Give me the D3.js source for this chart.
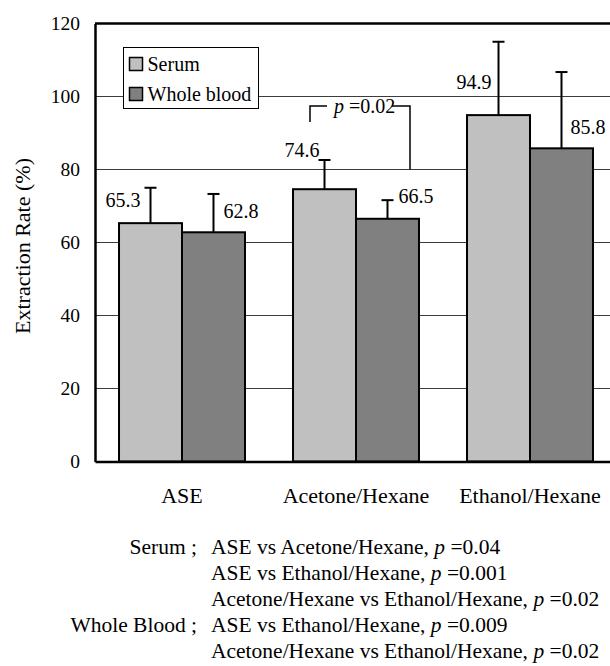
<!DOCTYPE html>
<html>
<head>
<meta charset="utf-8">
<script src="https://cdn.jsdelivr.net/npm/d3@7"></script>
<style>
  body { margin: 0; background: #fff; }
  text { font-family: "Liberation Serif", "Times New Roman", serif; fill: #000; }
</style>
</head>
<body>
<div id="vis"></div>
<script>
// Datos
const CATEGORIAS = ["ASE", "Acetone/Hexane", "Ethanol/Hexane"];
const SERIES = ["Serum", "Whole blood"];
const SERUM = [65.3, 74.6, 94.9];
const SERUM_SD = [9.7, 8.0, 20.1];
const WHOLE_BLOOD = [62.8, 66.5, 85.8];
const WHOLE_BLOOD_SD = [10.5, 5.1, 20.9];
const Y_TICKS = [0, 20, 40, 60, 80, 100, 120];

const NOTAS_GRUPO = ["Serum ;", "", "", "Whole Blood ;", ""];
const NOTAS_TEXTO = [
  "ASE vs Acetone/Hexane, ",
  "ASE vs Ethanol/Hexane, ",
  "Acetone/Hexane vs Ethanol/Hexane, ",
  "ASE vs Ethanol/Hexane, ",
  "Acetone/Hexane vs Ethanol/Hexane, "
];
const NOTAS_P = ["0.04", "0.001", "0.02", "0.009", "0.02"];

// Tamaños
const WIDTH = 610;
const HEIGHT = 666;
const FONT = 20;

const MARGIN = { top: 23.5, left: 95, bottom: 461.5, right: 617 };

const COLORES = { "Serum": "#c0c0c0", "Whole blood": "#808080" };

// donde van las etiquetas de valor (en unidades del eje y) y su corrimiento
const LABEL_AT = {
  "Serum": [71.6, 85.3, 104.1],
  "Whole blood": [68.6, 72.8, 91.6]
};
const LABEL_DX = {
  "Serum": [-10, -5, -7],
  "Whole blood": [10, 11, 9]
};

const SVG = d3.select("#vis")
  .append("svg")
  .attr("width", WIDTH)
  .attr("height", HEIGHT)
  .style("background", "#fff");

const x = d3.scaleBand()
  .domain(CATEGORIAS)
  .range([MARGIN.left, MARGIN.right])
  .paddingInner(0.276)
  .paddingOuter(0.138);

const xSub = d3.scaleBand()
  .domain(SERIES)
  .range([0, x.bandwidth()]);

const y = d3.scaleLinear()
  .domain([0, 120])
  .range([MARGIN.bottom, MARGIN.top]);

const filas = CATEGORIAS.flatMap((c, i) => [
  { cat: c, serie: "Serum", valor: SERUM[i], sd: SERUM_SD[i], i: i },
  { cat: c, serie: "Whole blood", valor: WHOLE_BLOOD[i], sd: WHOLE_BLOOD_SD[i], i: i }
]);
const centro = d => x(d.cat) + xSub(d.serie) + xSub.bandwidth() / 2;

// lineas de grilla
SVG.append("g")
  .selectAll("line")
  .data(Y_TICKS.filter(t => t > 0 && t < 120))
  .join("line")
  .attr("x1", MARGIN.left)
  .attr("x2", MARGIN.right)
  .attr("y1", d => y(d))
  .attr("y2", d => y(d))
  .attr("stroke", "#3c3c3c")
  .attr("stroke-width", 1);

// borde superior
SVG.append("line")
  .attr("x1", MARGIN.left)
  .attr("x2", MARGIN.right)
  .attr("y1", y(120))
  .attr("y2", y(120))
  .attr("stroke", "#000")
  .attr("stroke-width", 2.5);

// barras
SVG.append("g")
  .selectAll("rect")
  .data(filas)
  .join("rect")
  .attr("x", d => x(d.cat) + xSub(d.serie))
  .attr("width", xSub.bandwidth())
  .attr("y", d => y(d.valor))
  .attr("height", d => y(0) - y(d.valor))
  .attr("fill", d => COLORES[d.serie])
  .attr("stroke", "#000")
  .attr("stroke-width", 2);

// barras de error
const err = SVG.append("g")
  .selectAll("g")
  .data(filas)
  .join("g");

err.append("line")
  .attr("x1", centro)
  .attr("x2", centro)
  .attr("y1", d => y(d.valor))
  .attr("y2", d => y(d.valor + d.sd))
  .attr("stroke", "#000")
  .attr("stroke-width", 2);

err.append("line")
  .attr("x1", d => centro(d) - 6)
  .attr("x2", d => centro(d) + 6)
  .attr("y1", d => y(d.valor + d.sd))
  .attr("y2", d => y(d.valor + d.sd))
  .attr("stroke", "#000")
  .attr("stroke-width", 2);

// etiquetas de valor
SVG.append("g")
  .selectAll("text")
  .data(filas)
  .join("text")
  .attr("x", d => centro(d) + LABEL_DX[d.serie][d.i])
  .attr("y", d => y(LABEL_AT[d.serie][d.i]))
  .attr("dy", "0.35em")
  .attr("text-anchor", d => d.serie == "Serum" ? "end" : "start")
  .attr("font-size", FONT)
  .text(d => d.valor.toFixed(1));

// ejes
const ejeY = SVG.append("g")
  .attr("transform", `translate(${MARGIN.left}, 0)`)
  .call(d3.axisLeft(y).tickValues(Y_TICKS).tickSize(0).tickPadding(15));
ejeY.select(".domain").attr("stroke", "#000").attr("stroke-width", 2.5);
ejeY.selectAll("text")
  .attr("font-size", 19.5)
  .attr("font-family", "Liberation Serif, Times New Roman, serif");

const ejeX = SVG.append("g")
  .attr("transform", `translate(0, ${MARGIN.bottom})`)
  .call(d3.axisBottom(x).tickSize(0).tickSizeOuter(0).tickPadding(26));
ejeX.select(".domain").attr("stroke", "#000").attr("stroke-width", 2.5);
ejeX.selectAll("text")
  .attr("font-size", 22)
  .attr("font-family", "Liberation Serif, Times New Roman, serif");

SVG.append("text")
  .attr("transform", "translate(30, 246) rotate(-90)")
  .attr("text-anchor", "middle")
  .attr("font-size", 22)
  .text("Extraction Rate (%)");

// corchete p = 0.02 (Acetone/Hexane, serum vs whole blood)
const acS = centro(filas[2]);
const acW = centro(filas[3]);
const bx1 = acS - 14.5;
const bx2 = acW + 22.5;
const by = y(97.4);
SVG.append("path")
  .attr("d", `M${bx1},${y(93)} V${by} H${bx1 + 17}`)
  .attr("fill", "none")
  .attr("stroke", "#000")
  .attr("stroke-width", 1.5);
SVG.append("path")
  .attr("d", `M${bx2 - 18},${by} H${bx2} V${y(80)}`)
  .attr("fill", "none")
  .attr("stroke", "#000")
  .attr("stroke-width", 1.5);
const pTxt = SVG.append("text")
  .attr("x", bx1 + 24)
  .attr("y", by)
  .attr("dy", "0.35em")
  .attr("font-size", FONT);
pTxt.append("tspan").attr("font-style", "italic").text("p");
pTxt.append("tspan").text(" =0.02");

// leyenda
const leyenda = SVG.append("g");
leyenda.append("rect")
  .attr("x", 123.5).attr("y", 47.5)
  .attr("width", 135).attr("height", 61)
  .attr("fill", "#fff")
  .attr("stroke", "#000")
  .attr("stroke-width", 1);
const items = leyenda.selectAll("g")
  .data(SERIES)
  .join("g")
  .attr("transform", (d, i) => `translate(129.5, ${57.5 + i * 30})`);
items.append("rect")
  .attr("width", 13).attr("height", 13)
  .attr("fill", d => COLORES[d])
  .attr("stroke", "#000")
  .attr("stroke-width", 1.5);
items.append("text")
  .attr("x", 18)
  .attr("y", 6.5)
  .attr("dy", "0.35em")
  .attr("font-size", 20)
  .text(d => d);

// notas al pie
const notas = SVG.append("g")
  .selectAll("g")
  .data(NOTAS_TEXTO)
  .join("g")
  .attr("transform", (d, i) => `translate(0, ${554 + i * 26})`);
notas.append("text")
  .attr("x", 197)
  .attr("text-anchor", "end")
  .attr("font-size", 21.5)
  .text((d, i) => NOTAS_GRUPO[i]);
const lineas = notas.append("text")
  .attr("x", 211)
  .attr("font-size", 21.5);
lineas.append("tspan").text(d => d);
lineas.append("tspan").attr("font-style", "italic").text("p");
lineas.append("tspan").text((d, i) => " =" + NOTAS_P[i]);
</script>
</body>
</html>
